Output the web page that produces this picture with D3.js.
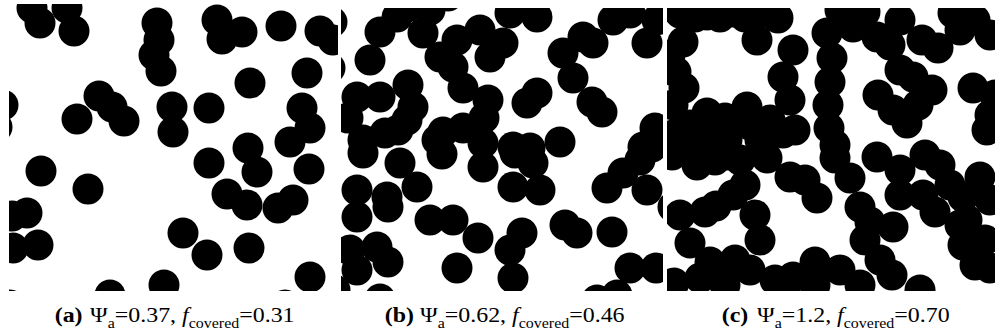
<!DOCTYPE html>
<html>
<head>
<meta charset="utf-8">
<script src="https://cdn.jsdelivr.net/npm/d3@7"></script>
<style>
  body { margin: 0; background: #fff; }
</style>
</head>
<body>
<svg id="fig" width="1003" height="335"></svg>
<script>
// disk centres in each simulation box, box units (one unit = one pixel of the box)
const diskRadius = 15.5;

const panelA = [
  [23,4],[31,19],[58,4],[65,27],[148,19],[150,36],[145,51],[152,67],
  [208,16],[233,28],[213,35],[272,22],[311,27],[324,36],[241,79],[298,69],
  [-6,101],[-12,123],[68,115],[90,92],[103,103],[115,117],[163,103],[164,128],
  [200,104],[293,104],[301,124],[281,138],[239,144],[248,168],[200,159],
  [32,167],[79,185],[300,165],[218,190],[238,201],[269,204],[284,196],
  [18,209],[3,212],[29,241],[4,244],[174,229],[198,251],[240,244],[301,273],
  [101,291],[155,281],[276,301],[1,301]
];

const panelB = [
  [-9,14],[-11,60],[29,52],[39,24],[56,9],[66,-1],[89,2],[82,25],[99,49],
  [116,32],[112,59],[107,-12],[139,22],[149,49],[162,35],[169,5],[196,9],
  [122,80],[147,92],[143,110],[186,95],[196,85],[222,45],[232,70],[252,35],
  [242,29],[251,94],[261,104],[272,12],[289,5],[306,35],[316,12],
  [16,89],[39,89],[67,77],[72,99],[66,112],[22,132],[44,125],[96,132],
  [102,124],[122,120],[142,135],[172,139],[189,140],[219,134],[314,120],[302,139],
  [22,145],[59,155],[76,179],[16,182],[46,189],[16,209],[47,199],
  [101,146],[142,159],[174,145],[192,155],[172,179],[199,182],
  [89,212],[112,212],[137,230],[181,225],[169,242],[224,217],[236,225],[271,224],
  [266,180],[282,165],[299,152],[311,139],[306,182],[332,199],
  [9,242],[36,239],[47,254],[16,262],[116,260],[172,270],[39,291],[-6,282],
  [256,292],[276,287],[289,260],[315,260],[57,122],[7,110]
];

const panelC = [
  [13,5],[40,7],[66,4],[93,4],[111,10],[28,9],[53,9],[78,9],
  [16,34],[90,32],[126,42],[116,69],[3,47],[17,80],
  [9,64],[6,97],[23,117],[40,105],[60,132],[80,99],[103,112],[116,125],
  [123,92],[6,127],[38,132],[93,132],[128,122],[58,110],[83,117],
  [160,25],[165,50],[163,74],[161,97],[162,120],[168,137],[173,2],[198,4],
  [186,19],[210,29],[233,12],[255,32],[271,40],[286,5],[308,12],[323,27],
  [223,37],[293,22],
  [211,87],[226,102],[240,115],[246,69],[265,82],[233,62],[251,97],
  [306,80],[328,87],[320,122],[323,107],
  [30,157],[60,147],[78,177],[100,150],[123,169],[168,150],[183,170],
  [5,147],[23,142],[73,152],[48,152],
  [210,149],[233,162],[258,147],[273,157],[256,187],[313,169],[296,189],
  [300,212],[323,192],[193,199],[150,190],[138,172],[233,187],[88,207],[66,187],
  [283,177],[49,198],
  [13,207],[38,204],[23,235],[68,252],[93,232],[83,262],[33,270],[7,275],
  [58,277],[108,272],[126,269],[148,277],[173,262],[193,277],[213,252],
  [198,232],[226,219],[225,267],[253,282],[268,204],[296,237],[318,232],
  [308,257],[323,260],[148,254],[43,254],[203,214],[293,217]
];

const panelTags = ["(a)", "(b)", "(c)"];
const psiValues = ["0.37", "0.62", "1.2"];
const coveredValues = ["0.31", "0.46", "0.70"];

// layout of the three boxes on the page
const panels = [
  { data: panelA, left: 9,   top: 4, width: 329, height: 287, capX: 90 },
  { data: panelB, left: 341, top: 8, width: 322, height: 283, capX: 420 },
  { data: panelC, left: 667, top: 8, width: 328, height: 283, capX: 757 }
];

const svg = d3.select("#fig");
const defs = svg.append("defs");
const font = "'Liberation Serif', 'Times New Roman', serif";

panels.forEach((p, i) => {
  const x = d3.scaleLinear().domain([0, p.width]).range([p.left, p.left + p.width]);
  const y = d3.scaleLinear().domain([0, p.height]).range([p.top, p.top + p.height]);

  defs.append("clipPath").attr("id", "clip" + i)
    .append("rect")
    .attr("x", x(0)).attr("y", y(0))
    .attr("width", x(p.width) - x(0)).attr("height", y(p.height) - y(0));

  svg.append("g")
    .attr("clip-path", "url(#clip" + i + ")")
    .selectAll("circle")
    .data(p.data)
    .enter().append("circle")
    .attr("cx", d => x(d[0]))
    .attr("cy", d => y(d[1]))
    .attr("r", x(diskRadius) - x(0))
    .attr("fill", "#000");

  // caption, the scanned type is a little wider than the font
  const t = svg.append("text")
    .attr("transform", "translate(" + p.capX + ",322) scale(1.14,1)")
    .attr("font-family", font)
    .attr("font-size", 21)
    .attr("fill", "#000");
  t.append("tspan").attr("x", -31).attr("font-weight", "bold").text(panelTags[i]);
  t.append("tspan").attr("x", 0).text("\u03A8");
  t.append("tspan").attr("font-size", 14).attr("dy", 6).text("a");
  t.append("tspan").attr("dy", -6).text("=" + psiValues[i] + ", ");
  t.append("tspan").attr("font-style", "italic").text("f");
  t.append("tspan").attr("font-size", 14).attr("dy", 6).text("covered");
  t.append("tspan").attr("dy", -6).text("=" + coveredValues[i]);
});
</script>
</body>
</html>
